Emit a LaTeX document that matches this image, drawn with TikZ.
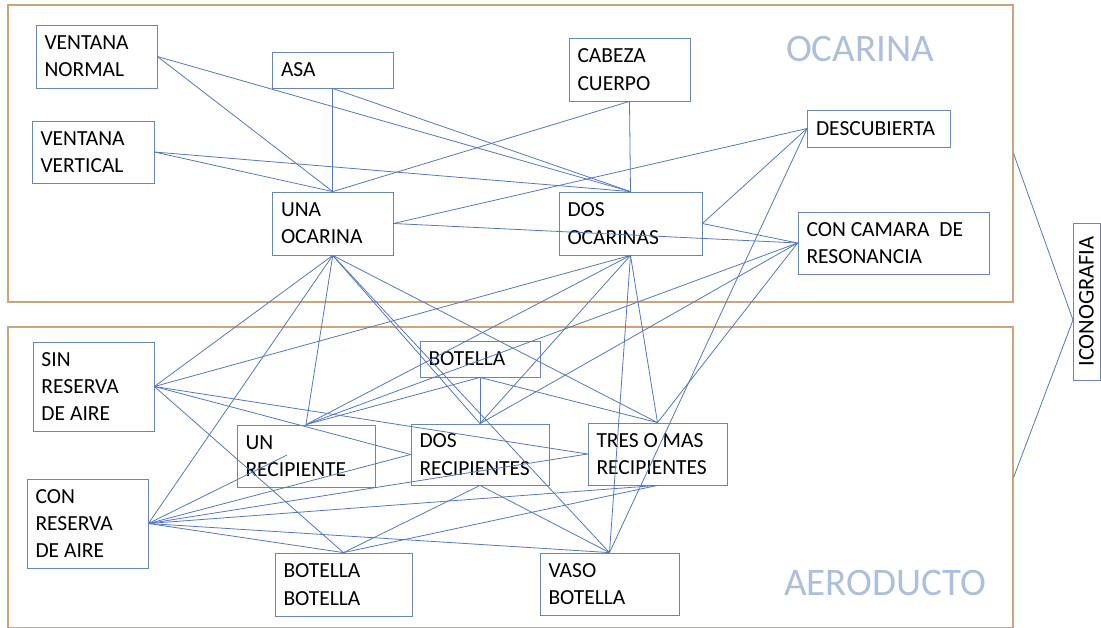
\documentclass[tikz,border=0pt]{standalone}
\usepackage{fontspec}
\setmainfont{Carlito}
\definecolor{lnc}{RGB}{84,120,190}
\definecolor{bxc}{RGB}{105,135,180}
\definecolor{frc}{RGB}{205,165,125}
\definecolor{lbc}{RGB}{172,192,222}
\begin{document}
\begin{tikzpicture}[x=1pt,y=-1pt,
  box/.style={draw=bxc, line width=0.8pt, inner xsep=8.5pt, inner ysep=0pt, align=left,
    font=\fontsize{21.5}{27.3}\selectfont, text=black,
    execute at begin node={\spaceskip=0pt\xspaceskip=0pt}},
  frame/.style={draw=frc, line width=1.1pt, inner sep=0pt},
  ln/.style={draw=lnc, line width=0.8pt},
  big/.style={text=lbc, font=\fontsize{39}{47}\selectfont, inner sep=0pt, anchor=base}]
\useasboundingbox (0,0) rectangle (1101,627);
% frames
\node[frame, minimum width=1005pt, minimum height=297pt] (ocfr) at (510.5,153.5) {};
\node[frame, minimum width=1005pt, minimum height=301pt] (aefr) at (510.5,477.5) {};
\node[big] (oclab) at (860,61.7) {OCARINA};
\node[big] (aelab) at (885,595) {AERODUCTO};
% boxes
\node[box, minimum width=121pt, minimum height=63pt, text width=104pt] (vn) at (96.5,56.5) {VENTANA\\NORMAL};
\node[box, minimum width=120.5pt, minimum height=36pt, text width=103.5pt] (asa) at (332.75,70) {ASA};
\node[box, minimum width=122pt, minimum height=62pt, text width=105pt] (vv) at (93,152) {VENTANA\\VERTICAL};
\node[box, minimum width=121pt, minimum height=63pt, text width=104pt] (cc) at (629.5,69.5) {CABEZA\\CUERPO};
\node[box, minimum width=120.5pt, minimum height=63pt, text width=103.5pt] (uo) at (332.75,223.5) {UNA\\OCARINA};
\node[box, minimum width=143pt, minimum height=63pt, text width=126pt] (dos) at (630.5,223.5) {DOS\\OCARINAS};
\node[box, minimum width=142.5pt, minimum height=37pt, text width=125.5pt] (desc) at (878.75,128.5) {DESCUBIERTA};
\node[box, minimum width=191pt, minimum height=62pt, text width=174pt] (cam) at (893.5,243) {CON CAMARA\ \ DE\\RESONANCIA};
\node[box, minimum width=121pt, minimum height=89pt, text width=104pt] (sin) at (93.5,386.5) {SIN\\RESERVA\\DE AIRE};
\node[box, minimum width=120pt, minimum height=36pt, text width=103pt] (bot) at (480,359) {BOTELLA};
\node[box, minimum width=138pt, minimum height=62pt, text width=121pt] (unr) at (306,456) {UN\\RECIPIENTE};
\node[box, minimum width=138pt, minimum height=61pt, text width=121pt] (dosr) at (480,454.5) {DOS\\RECIPIENTES};
\node[box, minimum width=139pt, minimum height=62pt, text width=122pt] (tres) at (657.5,454) {TRES O MAS\\RECIPIENTES};
\node[box, minimum width=121pt, minimum height=89pt, text width=104pt] (con) at (87.5,523.5) {CON\\RESERVA\\DE AIRE};
\node[box, minimum width=137pt, minimum height=63pt, text width=120pt] (bb) at (343.5,584.5) {BOTELLA\\BOTELLA};
\node[box, minimum width=139pt, minimum height=62pt, text width=122pt] (vb) at (609.5,584) {VASO\\BOTELLA};
\node[draw=bxc, line width=0.8pt, inner sep=0pt, minimum width=157pt, minimum height=27pt,
  rotate=90, font=\fontsize{22.5}{26}\selectfont] (icon) at (1086.5,301.5) {ICONOGRAFIA};
\coordinate (ic) at (1073,320);
\coordinate (dang) at (287,455);
% connectors: top section
\draw[ln] (vn.east) -- (uo.north);
\draw[ln] (vn.east) -- (dos.north);
\draw[ln] (asa.south) -- (uo.north);
\draw[ln] (asa.south) -- (dos.north);
\draw[ln] (vv.east) -- (uo.north);
\draw[ln] (vv.east) -- (dos.north);
\draw[ln] (cc.south) -- (uo.north);
\draw[ln] (cc.south) -- (dos.north);
\draw[ln] (uo.east) -- (desc.west);
\draw[ln] (uo.east) -- (cam.west);
\draw[ln] (dos.east) -- (desc.west);
\draw[ln] (dos.east) -- (cam.west);
% from the ocarinas down
\foreach \t in {sin.east, con.east, unr.north, dosr.north, tres.north, vb.north}
  \draw[ln] (uo.south) -- (\t);
\foreach \t in {sin.east, unr.north, dosr.north, tres.north, vb.north}
  \draw[ln] (dos.south) -- (\t);
\draw[ln] (desc.west) -- (vb.north);
\foreach \t in {unr.north, dosr.north, tres.north}
  \draw[ln] (cam.west) -- (\t);
\foreach \t in {unr.north, dosr.north, tres.north}
  \draw[ln] (bot.south) -- (\t);
% aeroducto
\foreach \t in {dosr.west, tres.west, bb.north}
  \draw[ln] (sin.east) -- (\t);
\foreach \t in {dang, dosr.west, tres.west, tres.south, vb.north, bb.north}
  \draw[ln] (con.east) -- (\t);
\draw[ln] (bb.north) -- (dosr.south);
\draw[ln] (bb.north) -- (tres.south);
\draw[ln] (dosr.south) -- (vb.north);
% to iconografia
\draw[ln] (ocfr.east) -- (ic);
\draw[ln] (aefr.east) -- (ic);
\end{tikzpicture}
\end{document}
